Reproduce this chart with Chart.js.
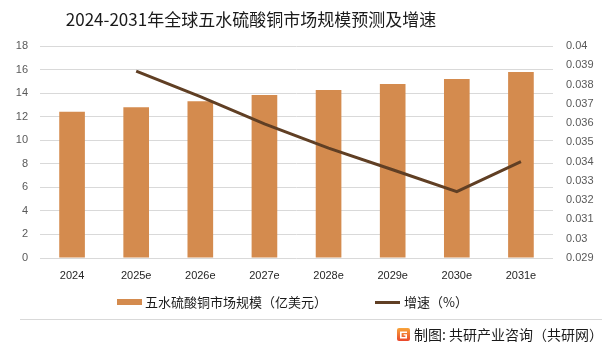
<!DOCTYPE html>
<html><head><meta charset="utf-8">
<script src="https://cdn.jsdelivr.net/npm/chart.js@4/dist/chart.umd.min.js"></script>
<style>
html,body{margin:0;padding:0;background:#fff;}
#wrap{position:relative;width:602px;height:350px;overflow:hidden;font-family:"Noto Sans CJK SC","Noto Sans",sans-serif;}
#c{position:absolute;left:0;top:0;}
.t{position:absolute;white-space:nowrap;color:#1a1a1a;}
</style></head>
<body><div id="wrap">
<canvas id="c" width="602" height="350"></canvas>
<div class="t" id="title" style="left:0;width:502px;text-align:center;top:7px;font-size:17px;line-height:24px;">2024-2031年全球五水硫酸铜市场规模预测及增速</div>
<div style="position:absolute;left:117px;top:299px;width:25px;height:6px;background:#d48b4e;"></div>
<div class="t" style="left:145px;top:293px;font-size:13px;line-height:18px;">五水硫酸铜市场规模（亿美元）</div>
<div style="position:absolute;left:375px;top:301px;width:25px;height:2.5px;background:#603f24;"></div>
<div class="t" style="left:404px;top:293px;font-size:13px;line-height:18px;">增速（%）</div>
<div style="position:absolute;left:20px;top:319px;width:582px;height:1px;background:#d9d9d9;"></div>
<svg style="position:absolute;left:397px;top:328px;" width="13" height="13" viewBox="0 0 13 13">
<defs><linearGradient id="g" x1="0" y1="0" x2="0" y2="1"><stop offset="0" stop-color="#f8a53b"/><stop offset="1" stop-color="#e9472c"/></linearGradient></defs>
<rect x="0" y="0" width="13" height="13" rx="2" fill="url(#g)"/>
<path d="M3 3.5 H10 V5 H4.6 V9 H8.4 V7.6 H6.6 V6.3 H10 V10.5 H3 Z" fill="#fff"/>
</svg>
<div class="t" style="left:414px;top:325px;font-size:14px;line-height:19px;">制图: 共研产业咨询（共研网）</div>
</div>
<script>
const categories = ["2024","2025e","2026e","2027e","2028e","2029e","2030e","2031e"];
const marketSize = [12.42, 12.8, 13.3, 13.83, 14.26, 14.77, 15.2, 15.8];
const growthRate = [null, 0.0387, 0.03737, 0.03596, 0.0347, 0.03358, 0.03244, 0.0340];
const leftTicks = [0,2,4,6,8,10,12,14,16,18];
const rightTicks = [0.029,0.03,0.031,0.032,0.033,0.034,0.035,0.036,0.037,0.038,0.039,0.04];

const tickFont = {family:"'Liberation Sans', Arial, sans-serif", size:11};
new Chart(document.getElementById('c'), {
  data: {
    labels: categories,
    datasets: [
      {type:'line', label:'增速（%）', data: growthRate, yAxisID:'y1', borderColor:'#603f24', borderWidth:3, pointRadius:0, tension:0, order:0, spanGaps:false},
      {type:'bar', label:'五水硫酸铜市场规模（亿美元）', data: marketSize, yAxisID:'y', backgroundColor:'#d48b4e', barPercentage:0.4, categoryPercentage:1, order:1}
    ]
  },
  options: {
    responsive:false, animation:false, devicePixelRatio:1,
    layout:{padding:{left:0,right:0,top:46,bottom:0}},
    plugins:{legend:{display:false}, tooltip:{enabled:false}, title:{display:false}},
    scales:{
      x:{grid:{display:false, drawTicks:false}, border:{display:false},
         ticks:{font:tickFont, color:'#262626', padding:11, maxRotation:0, autoSkip:false},
         afterFit(s){s.height=92;}},
      y:{position:'left', min:0, max:18, grid:{color:'#d9d9d9', drawTicks:false}, border:{display:false},
         afterBuildTicks(s){s.ticks = leftTicks.map(v=>({value:v}));},
         ticks:{font:tickFont, color:'#595959', padding:12},
         afterFit(s){s.width=40;}},
      y1:{position:'right', min:0.029, max:0.04, grid:{display:false, drawTicks:false}, border:{display:false},
         afterBuildTicks(s){s.ticks = rightTicks.map(v=>({value:v}));},
         ticks:{font:tickFont, color:'#595959', padding:13, callback:v=>String(parseFloat(Number(v).toFixed(3)))},
         afterFit(s){s.width=49;}}
    }
  }
});
</script>
</body></html>
